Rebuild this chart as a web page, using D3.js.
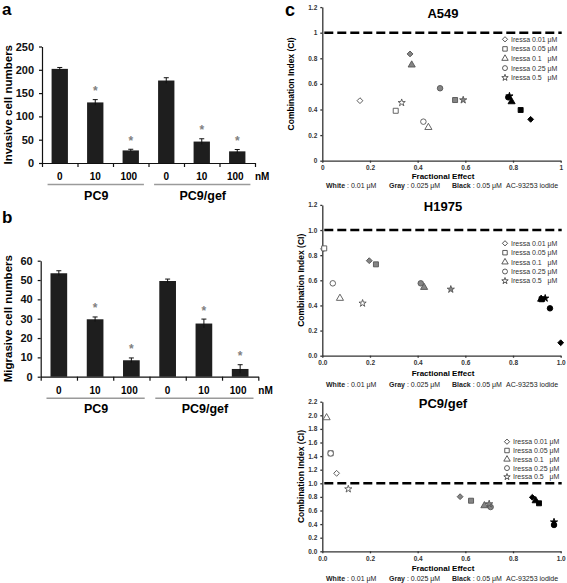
<!DOCTYPE html>
<html><head><meta charset="utf-8">
<script src="https://cdn.jsdelivr.net/npm/d3@7"></script>
<style>
body{margin:0;background:#fff}
svg{display:block}
text{font-family:"Liberation Sans",Arial,Helvetica,sans-serif}
</style>
</head><body>
<svg id="fig" width="567" height="583"></svg>
<script>
// ---------- Data: panels a & b ----------
const doses = ["0","10","100","0","10","100"];
const groups = ["PC9","PC9/gef"];
const invasive = [202,130,27,177,46,25];
const invasiveErr = [3,6,2.5,6,6,4];
const migrasive = [53.5,29.7,8.5,49.5,27.5,4];
const migrasiveErr = [1.3,1.2,1.2,1.0,2.3,2.2];
const significant = [false,true,true,false,true,true];
const invTicks = [0,50,100,150,200,250];
const migTicks = [0,10,20,30,40,50,60];

// ---------- Data: panel c ----------
const iressaLabels = ["Iressa 0.01 μM","Iressa 0.05 μM","Iressa 0.1   μM","Iressa 0.25 μM","Iressa 0.5   μM"];
const shapes = ["diamond","square","triangle","circle","star"];
// [fractional effect, CI], one per Iressa dose (order of iressaLabels)
const a549White = [[0.158,0.469],[0.308,0.39],[0.445,0.26],[0.424,0.305],[0.333,0.453]];
const a549Gray  = [[0.368,0.834],[0.557,0.474],[0.375,0.748],[0.494,0.566],[0.591,0.474]];
const a549Black = [[0.874,0.323],[0.832,0.396],[0.794,0.461],[0.78,0.495],[0.785,0.505]];
const h1975White = [[0.005,0.85],[0.008,0.854],[0.074,0.457],[0.044,0.576],[0.169,0.417]];
const h1975Gray  = [[0.197,0.756],[0.225,0.727],[0.427,0.544],[0.413,0.576],[0.539,0.528]];
const h1975Black = [[1.0,0.103],[0.920,0.449],[0.918,0.45],[0.955,0.377],[0.935,0.457]];
const pc9gefWhite = [[0.060,1.147],[0.035,1.441],[0.018,1.965],[0.035,1.44],[0.109,0.916]];
const pc9gefGray  = [[0.578,0.803],[0.624,0.744],[0.680,0.671],[0.706,0.651],[0.700,0.696]];
const pc9gefBlack = [[0.881,0.794],[0.909,0.706],[0.895,0.744],[0.972,0.387],[0.972,0.43]];
const ciTicks12 = [0,0.2,0.4,0.6,0.8,1,1.2];
const ciTicks22 = [0,0.2,0.4,0.6,0.8,1,1.2,1.4,1.6,1.8,2,2.2];
const feTicks = [0,0.2,0.4,0.6,0.8,1];
const acLegend = [["White"," : 0.01 μM"],["Gray"," : 0.025 μM"],["Black"," : 0.05 μM"],["","AC-93253 iodide"]];

const svg = d3.select("#fig");

// ---------- Bar panels ----------
function barPanel(o){
  const g = svg.append("g");
  const rows = o.values.map((v,i)=>({v, e:o.errs[i], i, sig:significant[i]}));
  const x = d3.scaleBand().domain(d3.range(o.values.length)).range([o.x0,o.x1])
    .paddingInner(0.54).paddingOuter(0.27);
  const y = d3.scaleLinear().domain([0,o.max]).range([o.yb,o.yt]);
  const xb = d3.scaleLinear().domain([0,o.values.length]).range([o.x0,o.x1]);
  const cx = d=>x(d.i)+x.bandwidth()/2;

  g.append("text").attr("x",2).attr("y",o.letterY).text(o.letter)
    .attr("font-size",17).attr("font-weight","bold");

  g.selectAll("rect.bar").data(rows).join("rect")
    .attr("x",d=>x(d.i)).attr("width",x.bandwidth())
    .attr("y",d=>y(d.v)).attr("height",d=>y(0)-y(d.v)).attr("fill","#1e1e1e");
  g.selectAll("line.eb").data(rows).join("line")
    .attr("x1",cx).attr("x2",cx).attr("y1",d=>y(d.v-d.e)).attr("y2",d=>y(d.v+d.e))
    .attr("stroke","#111").attr("stroke-width",1);
  g.selectAll("line.cap").data(rows).join("line")
    .attr("x1",d=>cx(d)-2.5).attr("x2",d=>cx(d)+2.5).attr("y1",d=>y(d.v+d.e)).attr("y2",d=>y(d.v+d.e))
    .attr("stroke","#111").attr("stroke-width",1);
  g.selectAll("text.ast").data(rows.filter(d=>d.sig)).join("text")
    .attr("x",cx).attr("y",d=>y(d.v+d.e)-11+6.5)
    .attr("text-anchor","middle").attr("font-size",12).attr("font-weight","bold").attr("fill","#808080").text("*");

  const ya = g.append("g").attr("transform",`translate(${o.x0},0)`)
    .call(d3.axisLeft(y).tickValues(o.ticks).tickSize(3).tickSizeOuter(0).tickPadding(5));
  ya.selectAll("text").attr("font-size",11).attr("font-weight","bold").attr("fill","#111").style("font-family","Liberation Sans, Arial");
  ya.selectAll("path,line").attr("stroke","#111").attr("stroke-width",1.2);
  const xa = g.append("g").attr("transform",`translate(0,${o.yb})`)
    .call(d3.axisBottom(xb).tickValues(d3.range(o.values.length+1)).tickFormat("").tickSize(4).tickSizeOuter(0));
  xa.selectAll("path,line").attr("stroke","#111").attr("stroke-width",1.2);

  g.selectAll("text.dose").data(doses).join("text")
    .attr("x",(d,i)=>x(i)+x.bandwidth()/2-(d.length>2?2:0)).attr("y",o.yb+17)
    .attr("text-anchor","middle").attr("font-size",10).attr("font-weight","bold").text(d=>d);
  g.append("text").attr("x",o.x1+0).attr("y",o.yb+17).attr("font-size",10).attr("font-weight","bold").text("nM");
  groups.forEach((name,k)=>{
    const first = x(k*3), last = x(k*3+2)+x.bandwidth();
    g.append("line").attr("x1",first-4).attr("x2",last+5).attr("y1",o.yb+21.5).attr("y2",o.yb+21.5)
      .attr("stroke","#9a9a9a").attr("stroke-width",1.5);
    g.append("text").attr("x",(first+last)/2+1).attr("y",o.yb+36.5).attr("text-anchor","middle")
      .attr("font-size",12.5).attr("font-weight","bold").text(name);
  });
  g.append("text").attr("transform",`translate(12,${(o.yb+o.yt)/2}) rotate(-90)`)
    .attr("text-anchor","middle").attr("font-size",11.5).attr("font-weight","bold").text(o.ylabel);
}

barPanel({x0:42,x1:255,yb:163,yt:46.5,max:250,ticks:invTicks,values:invasive,errs:invasiveErr,
  ylabel:"Invasive cell numbers",letter:"a",letterY:15});
barPanel({x0:40.7,x1:258.3,yb:376.7,yt:260.7,max:60,ticks:migTicks,values:migrasive,errs:migrasiveErr,
  ylabel:"Migrasive cell numbers",letter:"b",letterY:223});

// ---------- Scatter panels ----------
const symbolType = {diamond:d3.symbolSquare,square:d3.symbolSquare,triangle:d3.symbolTriangle,circle:d3.symbolCircle,star:d3.symbolStar};
const symbolSize = {diamond:17,square:25,triangle:22,circle:24,star:16};
const fillOf = {white:"#ffffff",gray:"#858585",black:"#000000"};
const strokeOf = {white:"#555555",gray:"#555555",black:"#000000"};

function marker(sel,shape,scale){
  sel.attr("d",d3.symbol().type(symbolType[shape]).size(symbolSize[shape]*(scale||1))());
  return sel;
}

function scatterPanel(o){
  const g = svg.append("g");
  const x = d3.scaleLinear().domain([0,1]).range([322.3,560.7]);
  const y = d3.scaleLinear().domain([0,o.ymax]).range([o.yb,o.yt]);

  g.append("text").attr("x",443).attr("y",o.titleY).attr("text-anchor","middle")
    .attr("font-size",13).attr("font-weight","bold").text(o.title);

  const ya = g.append("g").attr("transform",`translate(${x(0)},0)`)
    .call(d3.axisLeft(y).tickValues(o.yticks).tickFormat(d3.format(o.fmt)).tickSize(2).tickSizeOuter(0).tickPadding(3));
  ya.selectAll("text").attr("font-size",6.5).attr("font-weight","bold").attr("fill","#333");
  ya.selectAll("path,line").attr("stroke","#333").attr("stroke-width",1.3);
  const xa = g.append("g").attr("transform",`translate(0,${o.yb})`)
    .call(d3.axisBottom(x).tickValues(feTicks).tickFormat(d3.format(o.fmt)).tickSize(2).tickSizeOuter(0).tickPadding(3));
  xa.selectAll("text").attr("font-size",6.5).attr("font-weight","bold").attr("fill","#333");
  xa.selectAll("path,line").attr("stroke","#333").attr("stroke-width",1.3);

  g.append("line").attr("x1",x(0)+2).attr("x2",x(1)+1).attr("y1",y(1)).attr("y2",y(1))
    .attr("stroke","#000").attr("stroke-width",2.6).attr("stroke-dasharray","9,4");

  [["white",o.white],["gray",o.gray],["black",o.black]].forEach(([lvl,arr])=>{
    g.selectAll(null).data(arr).join("path")
      .each(function(d,i){ marker(d3.select(this),shapes[i]); })
      .attr("transform",(d,i)=>`translate(${x(d[0])},${y(d[1])})`+(shapes[i]==="diamond"?" rotate(45)":""))
      .attr("fill",fillOf[lvl]).attr("stroke",strokeOf[lvl]).attr("stroke-width",0.9);
  });

  const lg = g.append("g");
  iressaLabels.forEach((lab,i)=>{
    const yy = o.legY + i*o.legDy;
    marker(lg.append("path"),shapes[i],0.8)
      .attr("transform",`translate(${o.legX},${yy})`+(shapes[i]==="diamond"?" rotate(45)":""))
      .attr("fill","#fff").attr("stroke","#333").attr("stroke-width",0.8);
    lg.append("text").attr("x",o.legX+6).attr("y",yy+2.5).attr("font-size",7).attr("fill","#333")
      .style("white-space","pre").text(lab);
  });

  g.append("text").attr("x",443).attr("y",o.feY).attr("text-anchor","middle")
    .attr("font-size",8).attr("font-weight","bold").text("Fractional Effect");
  g.append("text").attr("transform",`translate(${o.ylabX},${(o.yb+o.yt)/2}) rotate(-90)`)
    .attr("text-anchor","middle").attr("font-size",8.5).attr("font-weight","bold").text("Combination Index (CI)");

  const bx = [326,389,452,506];
  acLegend.forEach((p,i)=>{
    const t = g.append("text").attr("x",bx[i]).attr("y",o.botY).attr("font-size",7).attr("fill","#222");
    if(p[0]) t.append("tspan").attr("font-weight","bold").text(p[0]);
    t.append("tspan").text(p[1]);
  });
}

svg.append("text").attr("x",285).attr("y",16).attr("font-size",18).attr("font-weight","bold").text("c");

scatterPanel({title:"A549",titleY:17.5,yb:160.7,yt:7.1,ymax:1.2,yticks:ciTicks12,fmt:"~g",
  white:a549White,gray:a549Gray,black:a549Black,legX:505,legY:39.3,legDy:9.6,
  feY:178.5,botY:187.5,ylabX:294});
scatterPanel({title:"H1975",titleY:211,yb:355.7,yt:204.9,ymax:1.2,yticks:ciTicks12,fmt:".1f",
  white:h1975White,gray:h1975Gray,black:h1975Black,legX:505,legY:243.3,legDy:9.4,
  feY:375.7,botY:386.5,ylabX:304});
scatterPanel({title:"PC9/gef",titleY:408,yb:551.3,yt:401.7,ymax:2.2,yticks:ciTicks22,fmt:".1f",
  white:pc9gefWhite,gray:pc9gefGray,black:pc9gefBlack,legX:507,legY:441.7,legDy:8.8,
  feY:570.5,botY:580.5,ylabX:304});
</script>
</body></html>
